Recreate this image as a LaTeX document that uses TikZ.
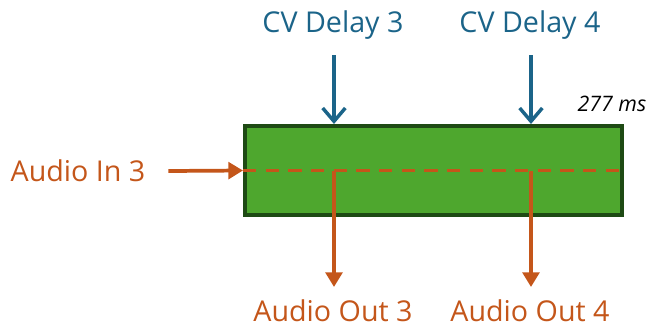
\documentclass[tikz,border=0pt]{standalone}
\usepackage{fontspec}
\setmainfont{Open Sans}
\definecolor{dlgreen}{HTML}{4EA72E}
\definecolor{dldark}{HTML}{1E4A14}
\definecolor{dlorange}{HTML}{C4561A}
\definecolor{dlblue}{HTML}{1B6489}
\usetikzlibrary{positioning, arrows.meta, calc}

\begin{document}
\begin{tikzpicture}[x=0.75pt, y=-0.75pt, every node/.style={font=\fontsize{21.5}{24}\selectfont, inner sep=0pt},
    cvarrow/.style={-{Straight Barb[length=10pt, width=17pt, line width=2.6pt]}, dlblue, line width=2.8pt},
    audarrow/.style={-{Triangle[length=11pt, width=12.5pt]}, dlorange, line width=2.8pt}]
        \useasboundingbox (0,0) rectangle (662,330);
        \node[draw=dldark, fill=dlgreen, line width=3pt, minimum width=282.75pt, minimum height=66.75pt] (delay) at (433.5,170.5) {};
        \coordinate (tap3) at (334,171);
        \coordinate (tap4) at (531,171);
        \node[text=dlblue] (cv3) at (333,25) {CV Delay 3};
        \node[text=dlblue] (cv4) at (530,25) {CV Delay 4};
        \node[text=dlorange] (in3) at (78,171) {Audio In 3};
        \node[text=dlorange] (out3) at (333,311) {Audio Out 3};
        \node[text=dlorange] (out4) at (530,311) {Audio Out 4};
        \node[font=\fontsize{16}{18}\selectfont\itshape, text=black] (time) at (612,104) {277 ms};
        \draw[dlorange, line width=2.8pt, dash pattern=on 10pt off 7pt] (delay.west) -- (delay.east);
        \draw[audarrow] ([xshift=17pt]in3.east) -- (delay.west);
        \draw[cvarrow] (tap3 |- 0,55) -- (tap3 |- delay.north);
        \draw[cvarrow] (tap4 |- 0,55) -- (tap4 |- delay.north);
        \draw[audarrow] (tap3) -- (tap3 |- 0,287);
        \draw[audarrow] (tap4) -- (tap4 |- 0,287);
      \end{tikzpicture}
\end{document}
